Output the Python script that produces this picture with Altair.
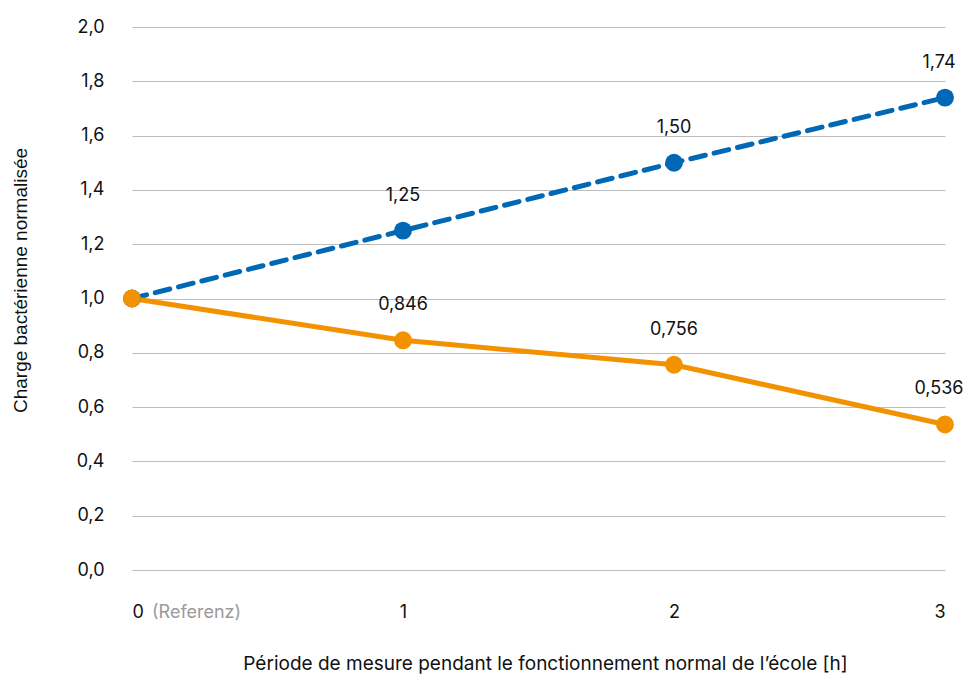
import altair as alt
import pandas as pd

periods = [0, 1, 2, 3]
blue_values = [1.0, 1.25, 1.50, 1.74]
blue_labels = ["", "1,25", "1,50", "1,74"]
orange_values = [1.0, 0.846, 0.756, 0.536]
orange_labels = ["", "0,846", "0,756", "0,536"]
y_ticks = [0.0, 0.2, 0.4, 0.6, 0.8, 1.0, 1.2, 1.4, 1.6, 1.8, 2.0]

rows = []
for p, v, l in zip(periods, blue_values, blue_labels):
    rows.append({"series": "blue", "x": p, "y": v, "label": l})
for p, v, l in zip(periods, orange_values, orange_labels):
    rows.append({"series": "orange", "x": p, "y": v, "label": l})
df = pd.DataFrame(rows)
blue = df[df.series == "blue"]
orange = df[df.series == "orange"]
inner_labels = df[(df.x > 0) & (df.x < 3)]
edge_labels = df[df.x == 3]

BLUE = "#0068b4"
ORANGE = "#f39200"
FONT = "Inter"

xs = alt.Scale(domain=[0, 3], nice=False, zero=False)
ys = alt.Scale(domain=[0, 2], nice=False)

x_enc = alt.X("x:Q", scale=xs, axis=alt.Axis(
    values=periods, format="d", grid=False, domain=False, ticks=False,
    labelPadding=33, labelFontSize=18, labelFont=FONT, labelColor="#111",
    title="Période de mesure pendant le fonctionnement normal de l’école [h]",
    titleFont=FONT, titleFontSize=19, titleFontWeight="normal", titleColor="#111",
    titleX=413, titleY=99, titleBaseline="alphabetic", titleAlign="center",
))
y_enc = alt.Y("y:Q", scale=ys, axis=alt.Axis(
    values=y_ticks, labelExpr="replace(format(datum.value, '.1f'), '.', ',')",
    grid=True, gridColor="#bdbdbd", gridWidth=1, domain=False, ticks=False,
    labelPadding=28, labelFontSize=18, labelFont=FONT, labelColor="#111",
    title="Charge bactérienne normalisée", titleFont="Liberation Sans",
    titleFontSize=19, titleFontWeight="normal", titleColor="#111",
    titleAngle=-90, titleX=-112, titleY=253, titleAlign="center", titleBaseline="middle",
))

blue_line = alt.Chart(blue).mark_line(
    color=BLUE, strokeWidth=5, strokeDash=[15, 9], strokeCap="round"
).encode(x=x_enc, y=y_enc)
blue_pts = alt.Chart(blue).mark_circle(color=BLUE, size=320, opacity=1).encode(x="x:Q", y="y:Q")
orange_line = alt.Chart(orange).mark_line(color=ORANGE, strokeWidth=5).encode(x="x:Q", y="y:Q")
orange_pts = alt.Chart(orange).mark_circle(color=ORANGE, size=320, opacity=1).encode(x="x:Q", y="y:Q")

txt_inner = alt.Chart(inner_labels).mark_text(
    dy=-35, fontSize=18, font=FONT, color="#111"
).encode(x="x:Q", y="y:Q", text="label:N")
txt_edge = alt.Chart(edge_labels).mark_text(
    dy=-35, dx=-6, fontSize=18, font=FONT, color="#111"
).encode(x="x:Q", y="y:Q", text="label:N")

ref = alt.Chart(pd.DataFrame({"x": [0], "t": ["(Referenz)"]})).mark_text(
    align="left", baseline="middle", dx=20, fontSize=18, font=FONT, color="#9a9a9a"
).encode(x="x:Q", y=alt.value(586), text="t:N")

chart = alt.layer(
    blue_line, orange_line, blue_pts, orange_pts, txt_inner, txt_edge, ref
).properties(
    width=813, height=543,
    autosize=alt.AutoSizeParams(type="none"),
    padding={"left": 124, "top": 19, "right": 18, "bottom": 106},
).configure_view(stroke=None)

chart.save("out.html", embed_options={"renderer": "svg", "actions": False})
